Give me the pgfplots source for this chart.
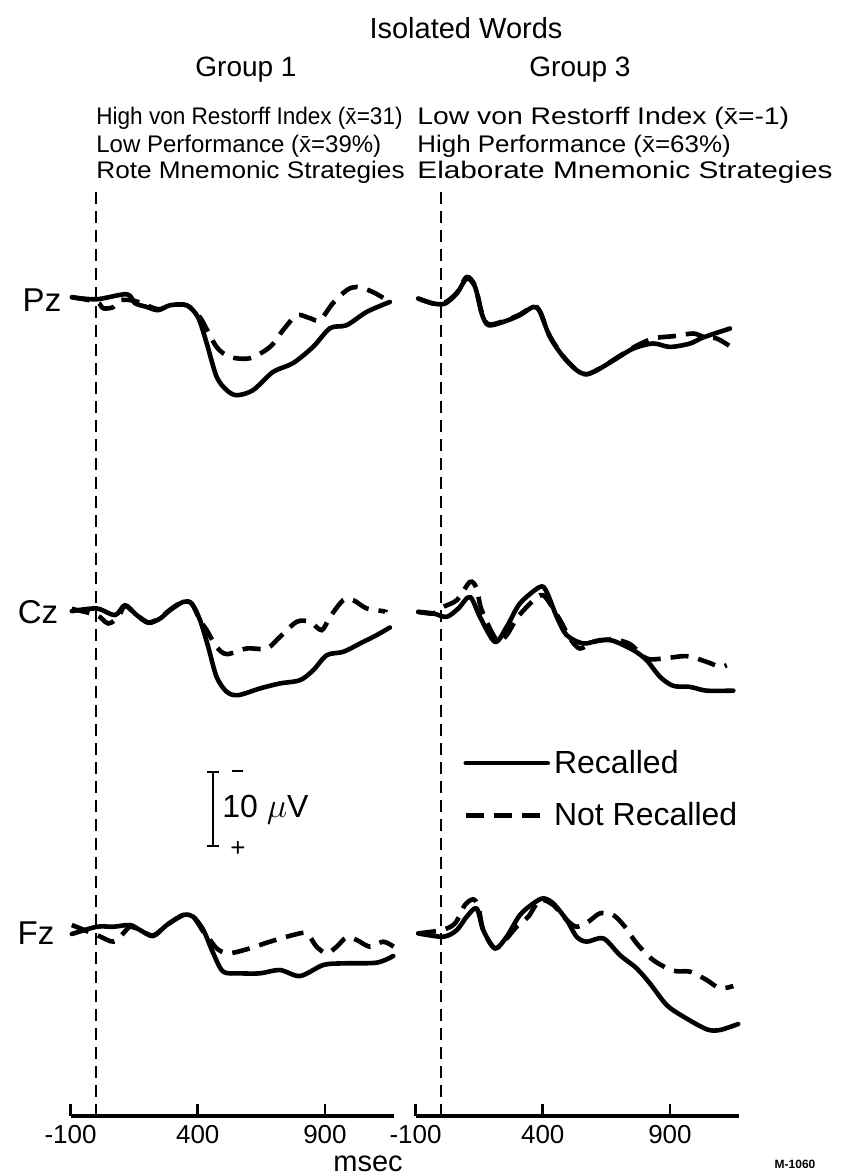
\documentclass[border=0pt]{standalone}
\usepackage{pgfplots}
\usepackage{pgfplotstable}
\pgfplotsset{compat=1.18}
\usepackage{fontspec}
\setmainfont{Liberation Sans}

% t = msec, v = microvolts relative to prestimulus baseline (positive = down)
\pgfplotstableread{
t v
-95 0.0
3 0.27
121 -0.4
153 0.8
200 1.3
244 1.73
291 1.07
356 1.07
401 2.67
435 6.13
474 10.6
514 12.4
553 13.07
617 12.4
696 9.96
774 8.8
853 6.63
920 4.13
985 3.73
1064 1.96
1155 0.63
}\PzLrec
\pgfplotstableread{
t v
-95 0
3 0.63
28 1.47
67 1.33
94 0.4
153 0.5
244 1.6
291 1.07
356 1.07
401 2.4
420 3.3
474 6.63
527 7.96
605 8.13
684 6.63
735 4.4
789 2.4
841 2.8
880 3.07
931 0.8
985 -0.93
1025 -1.37
1088 -0.7
1155 0.63
}\PzLnrec
\pgfplotstableread{
t v
-90 0.17
-30 0.84
16 0.84
62 -0.49
101 -2.49
134 -1.37
160 2.17
186 3.73
245 3.29
310 2.4
363 1.29
389 1.96
428 5.29
481 7.96
533 9.73
573 10.27
625 9.5
690 8.17
756 6.84
834 6.17
900 6.63
979 6.17
1030 5.37
1136 4.17
}\PzRrec
\pgfplotstableread{
t v
-90 0.17
-30 0.84
16 0.7
62 -0.6
101 -2.7
134 -1.5
160 2.0
186 3.6
245 3.2
310 2.3
363 1.2
389 1.9
428 5.2
481 7.9
533 9.7
573 10.27
625 9.5
690 8.1
756 6.7
834 5.5
913 5.2
992 4.84
1031 5.29
1083 5.5
1136 6.53
}\PzRnrec
\pgfplotstableread{
t v
-95 0
3 -0.36
75 0.53
114 -0.8
160 0.53
206 1.56
252 0.98
291 -0.13
343 -1.24
376 -1.02
409 1.2
441 4.76
474 8.76
514 10.76
559 11.2
645 10.3
723 9.64
802 9.2
854 7.87
907 5.87
972 5.42
1038 4.31
1103 3.2
1155 2.18
}\CzLrec
\pgfplotstableread{
t v
-95 -0.3
3 0.53
48 1.64
88 0.76
114 -0.7
160 0.5
206 1.5
252 0.9
291 -0.2
343 -1.3
376 -1.0
409 1.2
435 2.53
474 4.76
514 5.73
592 4.98
671 4.98
723 3.42
789 1.42
841 1.42
887 2.53
920 0.76
972 -1.47
1011 -1.47
1064 -0.36
1129 0
1136 0.1
}\CzLnrec
\pgfplotstableread{
t v
-90 0.09
-30 0.31
22 0.76
68 -0.36
114 -1.9
153 0.76
212 4.1
258 2.1
310 -1.02
389 -3.24
415 -2.58
455 0.76
494 3.2
559 4.31
625 3.87
677 3.96
756 5.2
808 6.53
861 8.76
913 9.96
979 10.1
1044 10.6
1149 10.6
}\CzRrec
\pgfplotstableread{
t v
-90 0.09
-30 0.31
3 -0.49
62 -1.47
114 -3.9
140 -3.02
160 -0.13
219 3.87
258 3.2
297 0.98
350 -1.02
389 -2.13
415 -1.69
468 1.2
507 3.64
546 4.98
599 4.1
677 3.78
743 4.4
808 6.31
874 6.31
966 6
1044 6.76
1096 7.42
1123 7.2
}\CzRnrec
\pgfplotstableread{
t v
-95 0.4
3 -0.57
68 -0.57
134 -0.8
173 -0.13
225 0.67
278 -0.8
343 -2.13
382 -1.91
422 -0.13
461 2.97
500 5.42
566 5.64
645 5.64
723 5.2
802 6
893 4.53
972 4.31
1103 4.22
1168 3.33
}\FzLrec
\pgfplotstableread{
t v
-95 -0.8
3 0.53
68 1.42
107 0.31
134 -0.57
173 -0.13
225 0.6
278 -0.8
343 -2.13
382 -1.91
422 0.1
435 0.53
474 2.31
520 2.97
592 2.44
684 1.42
775 0.53
828 0.31
867 2.09
907 2.97
946 2.09
985 0.84
1025 1.2
1077 2.09
1129 1.42
1170 2.09
}\FzLnrec
\pgfplotstableread{
t v
-90 0.31
9 0.76
62 -0.13
101 -1.91
140 -3.02
166 -0.13
212 2.31
258 0.76
310 -2.13
363 -3.69
402 -4.36
441 -3.69
494 -1.47
533 0.76
573 1.42
638 0.98
703 3.2
769 4.98
821 6.98
887 9.87
952 11.4
1044 13.1
1096 13.2
1168 12.4
}\FzRrec
\pgfplotstableread{
t v
-90 0.31
3 -0.13
55 -1.02
94 -3.47
127 -4.22
147 -3.24
166 -0.13
212 2.31
258 0.98
297 -0.57
343 -1.91
389 -4.13
441 -3.47
494 -1.47
533 -0.57
579 -1.24
625 -2.36
677 -2.13
723 -0.57
769 1.64
834 3.87
913 5.29
979 5.42
1044 6.53
1096 7.64
1149 7.33
}\FzRnrec

\pgfplotsset{
  eeg/.style={
    scale only axis, width=161.55pt, height=463pt,
    xmin=-100, xmax=1170, ymin=0, ymax=123.5,
    axis x line=bottom, axis y line=none,
    x axis line style={-, line width=1.6pt},
    xtick={-100,400,900}, xticklabels={-100,400,900},
    tick align=inside, major tick length=6pt,
    every tick/.style={line width=1.4pt, black},
    xticklabel style={font=\fontsize{13}{14}\selectfont, yshift=-1pt},
    clip=false,
  },
  rec/.style={line width=2.3pt, black, line join=round, line cap=round, smooth, no markers},
  nrec/.style={line width=2.3pt, black, dash pattern=on 9pt off 5pt, smooth, no markers},
  zero/.style={line width=1.1pt, black, dash pattern=on 6pt off 3.5pt, no markers},
}

\begin{document}
\begin{tikzpicture}[x=0.5pt, y=-0.5pt]
\useasboundingbox (0,0) rectangle (851,1176);

% ---------- Group 1 ----------
\begin{axis}[eeg, at={(35.28pt,-558pt)}, anchor=south west]
\addplot[zero] coordinates {(0,0) (0,123.5)};
\addplot[rec]  table[x=t, y expr=109.2-\thisrow{v}] {\PzLrec};
\addplot[nrec] table[x=t, y expr=109.2-\thisrow{v}] {\PzLnrec};
\addplot[rec]  table[x=t, y expr=67.33-\thisrow{v}] {\CzLrec};
\addplot[nrec] table[x=t, y expr=67.33-\thisrow{v}] {\CzLnrec};
\addplot[rec]  table[x=t, y expr=24.67-\thisrow{v}] {\FzLrec};
\addplot[nrec] table[x=t, y expr=24.67-\thisrow{v}] {\FzLnrec};
\end{axis}

% ---------- Group 3 ----------
\begin{axis}[eeg, at={(207.78pt,-558pt)}, anchor=south west,
  legend style={at={(axis description cs:0.147,0.40)}, anchor=north west,
    draw=none, fill=none, inner sep=0pt, row sep=9pt,
    font=\fontsize{16}{17}\selectfont, cells={anchor=west}},
  legend image code/.code={\draw[#1] (0pt,0pt) -- (41pt,0pt);}]
\addplot[rec]  table[x=t, y expr=109.2-\thisrow{v}] {\PzRrec};
\addlegendentry{Recalled}
\addplot[nrec] table[x=t, y expr=109.2-\thisrow{v}] {\PzRnrec};
\addlegendentry{Not Recalled}
\addplot[zero] coordinates {(0,0) (0,123.5)};
\addplot[rec]  table[x=t, y expr=67.33-\thisrow{v}] {\CzRrec};
\addplot[nrec] table[x=t, y expr=67.33-\thisrow{v}] {\CzRnrec};
\addplot[rec]  table[x=t, y expr=24.67-\thisrow{v}] {\FzRrec};
\addplot[nrec] table[x=t, y expr=24.67-\thisrow{v}] {\FzRnrec};
\end{axis}

% ---------- titles ----------
\node[font=\fontsize{14.5}{17}\selectfont] at (466,28) {Isolated Words};
\node[font=\fontsize{14}{17}\selectfont] at (246,70) {Group 1};
\node[font=\fontsize{14}{17}\selectfont] at (580,70) {Group 3};
\begin{scope}[every node/.style={font=\fontsize{12}{13}\selectfont, anchor=west, inner sep=0pt}]
\node at (96,118) {\scalebox{0.94}[1]{High von Restorff Index (\={x}=31)}};
\node at (96,146) {\scalebox{1.0}[1]{Low Performance (\={x}=39\%)}};
\node at (96,172) {\scalebox{1.09}[1]{Rote Mnemonic Strategies}};
\node at (417,118) {\scalebox{1.18}[1]{Low von Restorff Index (\={x}=-1)}};
\node at (417,146) {\scalebox{1.08}[1]{High Performance (\={x}=63\%)}};
\node at (417,172) {\scalebox{1.24}[1]{Elaborate Mnemonic Strategies}};
\end{scope}

% ---------- channel labels ----------
\begin{scope}[every node/.style={font=\fontsize{16.5}{17}\selectfont}]
\node at (42,300) {Pz};
\node at (38,612) {Cz};
\node at (36,933) {Fz};
\end{scope}

% ---------- calibration bar ----------
\draw[line width=1.3pt] (213,772) -- (213,846);
\draw[line width=1.3pt] (207,772) -- (219,772);
\draw[line width=1.3pt] (207,846) -- (219,846);
\draw[line width=1.1pt] (232,771) -- (243,771);
\node[font=\fontsize{13}{13}\selectfont] at (238,849) {+};
\node[font=\fontsize{16}{17}\selectfont, anchor=west, inner sep=0pt] at (222,810) {10 $\mu$V};

% ---------- bottom ----------
\node[font=\fontsize{14.5}{15}\selectfont] at (368,1164) {msec};
\node[font=\bfseries\fontsize{6}{7}\selectfont] at (795,1164) {M-1060};
\end{tikzpicture}
\end{document}
